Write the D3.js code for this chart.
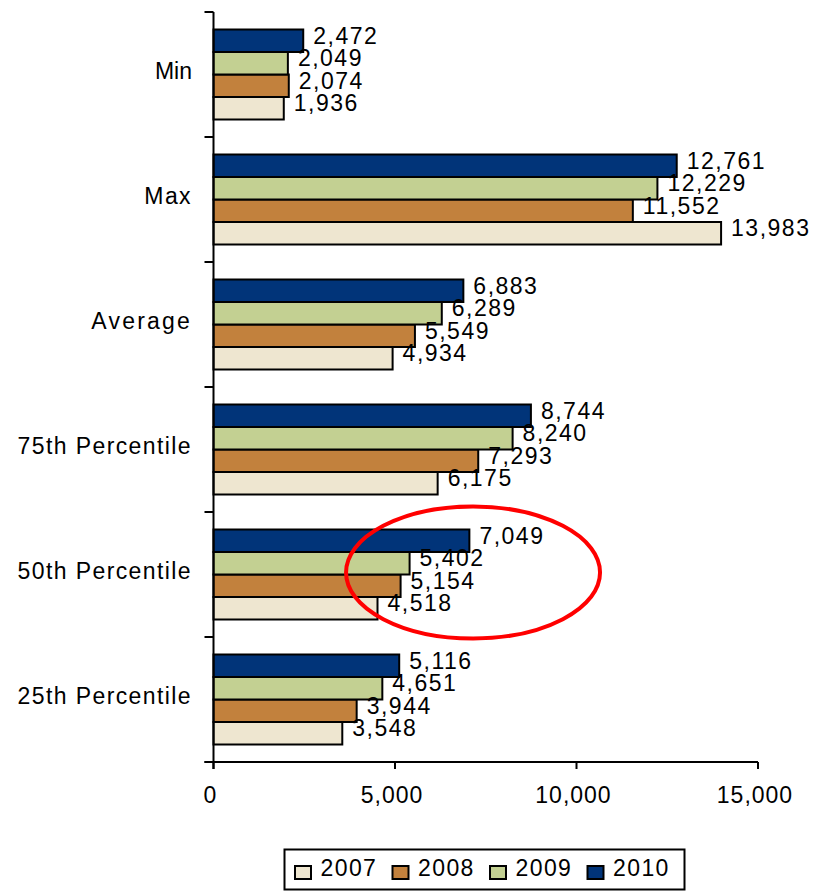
<!DOCTYPE html>
<html>
<head>
<meta charset="utf-8">
<script src="https://cdn.jsdelivr.net/npm/d3@7"></script>
<style>
  html, body { margin: 0; padding: 0; background: #fff; }
  text { font-family: "Liberation Sans", Arial, sans-serif; fill: #000; }
</style>
</head>
<body>
<svg id="chart" width="821" height="892"></svg>
<script>
// Statistic rows, top to bottom
const categories = ["Min", "Max", "Average", "75th Percentile", "50th Percentile", "25th Percentile"];
// Yearly values per statistic
const years = ["2007", "2008", "2009", "2010"];
const values2007 = [1936, 13983, 4934, 6175, 4518, 3548];
const values2008 = [2074, 11552, 5549, 7293, 5154, 3944];
const values2009 = [2049, 12229, 6289, 8240, 5402, 4651];
const values2010 = [2472, 12761, 6883, 8744, 7049, 5116];
const xTicks = [0, 5000, 10000, 15000];
const colors = ["#EEE6D0", "#C2813D", "#C3D092", "#013479"];
// Highlighted region around the 50th percentile bars
const highlightCategory = "50th Percentile";
const highlightCenterValue = 7150;

const series = [values2007, values2008, values2009, values2010];
const rows = categories.map((c, i) => ({
  category: c,
  bars: years.map((yr, j) => ({ year: yr, value: series[j][i], color: colors[j] }))
}));

const svg = d3.select("#chart");
const plotLeft = 213.5, plotRight = 758, plotTop = 12, plotBottom = 762;

const x = d3.scaleLinear().domain([0, 15000]).range([plotLeft, plotRight]);
const y = d3.scaleBand().domain(categories).range([plotTop, plotBottom])
  .paddingInner(0.28).paddingOuter(0.14);
// 2010 sits on top within each group
const ySub = d3.scaleBand().domain(years.slice().reverse()).range([0, y.bandwidth()]);
const fmt = d3.format(",");

// Bars
const groups = svg.append("g").selectAll("g").data(rows).join("g")
  .attr("transform", d => `translate(0,${y(d.category)})`);

groups.selectAll("rect").data(d => d.bars).join("rect")
  .attr("x", x(0))
  .attr("y", d => ySub(d.year))
  .attr("width", d => x(d.value) - x(0))
  .attr("height", ySub.bandwidth())
  .attr("fill", d => d.color)
  .attr("stroke", "#000")
  .attr("stroke-width", 2);

groups.selectAll("text").data(d => d.bars).join("text")
  .attr("x", d => x(d.value) + 10)
  .attr("y", d => ySub(d.year) + ySub.bandwidth() / 2 + 3)
  .attr("font-size", 23)
  .attr("letter-spacing", 1.5)
  .text(d => fmt(d.value));

// Category axis (left)
const boundaries = d3.range(categories.length + 1).map(i => plotTop + i * y.step());
const axisG = svg.append("g");
axisG.append("line")
  .attr("x1", plotLeft).attr("x2", plotLeft).attr("y1", plotTop).attr("y2", plotBottom + 7)
  .attr("stroke", "#000").attr("stroke-width", 2);
axisG.selectAll("line.ytick").data(boundaries).join("line").attr("class", "ytick")
  .attr("x1", plotLeft - 9).attr("x2", plotLeft).attr("y1", d => d).attr("y2", d => d)
  .attr("stroke", "#000").attr("stroke-width", 2);
axisG.selectAll("text.ylabel").data(categories).join("text").attr("class", "ylabel")
  .attr("x", 192)
  .attr("y", d => y(d) + y.bandwidth() / 2 + 4)
  .attr("text-anchor", "end")
  .attr("font-size", 23)
  .attr("letter-spacing", d => d === "Min" ? 0 : (d === "Average" ? 2.2 : 1.4))
  .text(d => d);

// Value axis (bottom)
axisG.append("line")
  .attr("x1", plotLeft - 9).attr("x2", plotRight).attr("y1", plotBottom).attr("y2", plotBottom)
  .attr("stroke", "#000").attr("stroke-width", 2);
axisG.selectAll("line.xtick").data(xTicks).join("line").attr("class", "xtick")
  .attr("x1", d => x(d)).attr("x2", d => x(d)).attr("y1", plotBottom).attr("y2", plotBottom + 7)
  .attr("stroke", "#000").attr("stroke-width", 2);
axisG.selectAll("text.xlabel").data(xTicks).join("text").attr("class", "xlabel")
  .attr("x", d => x(d) - 3)
  .attr("y", plotBottom + 41)
  .attr("text-anchor", "middle")
  .attr("font-size", 23)
  .attr("letter-spacing", 1)
  .text(d => fmt(d));

// Red highlight ellipse
svg.append("ellipse")
  .attr("cx", x(highlightCenterValue))
  .attr("cy", y(highlightCategory) + y.bandwidth() / 2 - 2)
  .attr("rx", 127).attr("ry", 66)
  .attr("fill", "none").attr("stroke", "#FF0000").attr("stroke-width", 4);

// Legend
const legend = svg.append("g");
legend.append("rect")
  .attr("x", 284.5).attr("y", 849.5).attr("width", 400).attr("height", 40)
  .attr("fill", "#fff").attr("stroke", "#000").attr("stroke-width", 2);
const items = legend.selectAll("g").data(years).join("g")
  .attr("transform", (d, i) => `translate(${295 + i * 97.5},0)`);
items.append("rect")
  .attr("x", 0).attr("y", 866).attr("width", 16).attr("height", 13)
  .attr("fill", (d, i) => colors[i]).attr("stroke", "#000").attr("stroke-width", 2);
items.append("text")
  .attr("x", 25.5).attr("y", 876)
  .attr("font-size", 23).attr("letter-spacing", 1.4)
  .text(d => d);
</script>
</body>
</html>
